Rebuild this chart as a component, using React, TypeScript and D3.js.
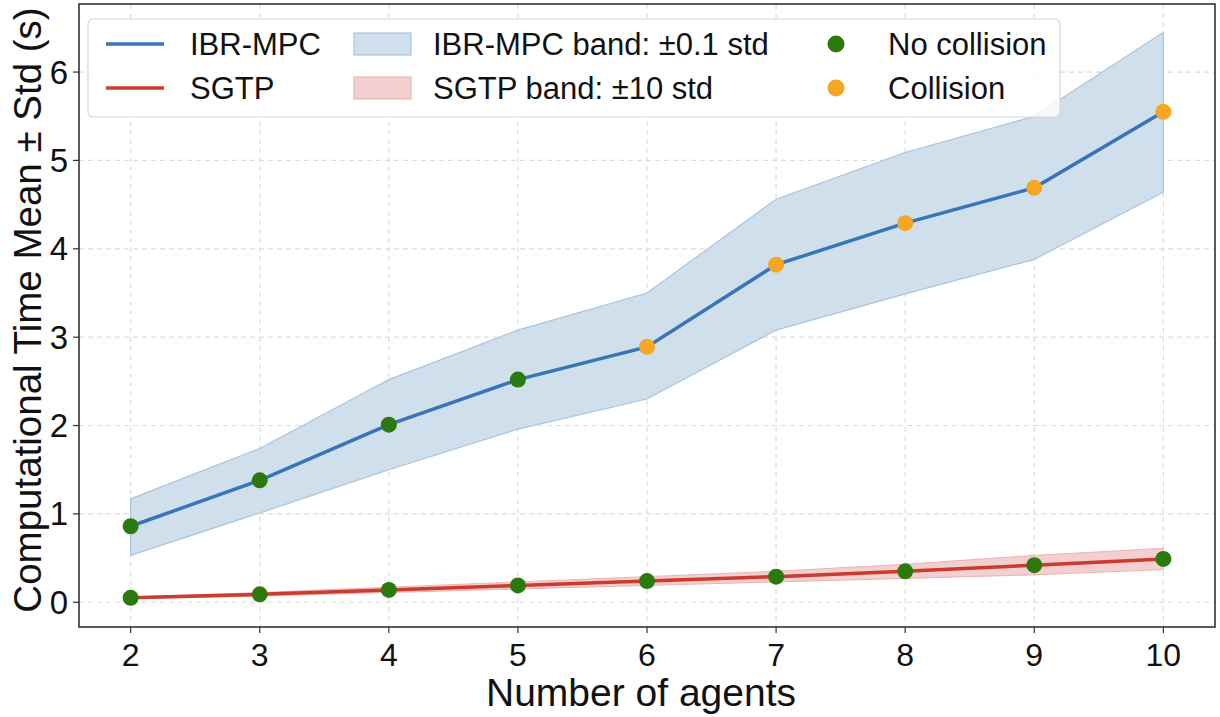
import React from 'react';
import * as d3 from 'd3';

// data
const agents = [2, 3, 4, 5, 6, 7, 8, 9, 10];
const ibrMean = [0.86, 1.38, 2.01, 2.52, 2.89, 3.82, 4.29, 4.69, 5.55];
const ibrLow = [0.53, 1.01, 1.5, 1.96, 2.3, 3.08, 3.49, 3.88, 4.64];
const ibrHigh = [1.17, 1.74, 2.52, 3.08, 3.5, 4.56, 5.09, 5.5, 6.45];
const ibrCollision = [false, false, false, false, true, true, true, true, true];
const sgtpMean = [0.05, 0.09, 0.14, 0.19, 0.24, 0.29, 0.35, 0.42, 0.49];
const sgtpLow = [0.04, 0.07, 0.11, 0.15, 0.19, 0.23, 0.27, 0.31, 0.37];
const sgtpHigh = [0.06, 0.11, 0.17, 0.23, 0.29, 0.35, 0.43, 0.53, 0.61];
const yTicks = [0, 1, 2, 3, 4, 5, 6];

const W = 1220;
const H = 717;
const m = { left: 79, right: 5, top: 4, bottom: 90 };
const FONT = 'Liberation Sans, Arial, Helvetica, sans-serif';

const BLUE = '#3a74b8';
const RED = '#cc3b2f';
const GREEN = '#2a7a0e';
const ORANGE = '#f5a623';

export default function App() {
  const x = d3.scaleLinear().domain([1.6, 10.4]).range([m.left, W - m.right]);
  const y = d3.scaleLinear().domain([-0.28, 6.77]).range([H - m.bottom, m.top]);

  const line = d3.line<number>().x((_, i) => x(agents[i])).y(d => y(d));
  const area = (lo: number[], hi: number[]) =>
    d3.area<number>()
      .x((_, i) => x(agents[i]))
      .y0((_, i) => y(lo[i]))
      .y1((_, i) => y(hi[i]))(agents) || '';

  const x0 = m.left, x1 = W - m.right, y0 = m.top, y1 = H - m.bottom;

  return (
    <svg width={W} height={H} style={{ position: 'absolute', left: 0, top: 0, background: '#fff' }} fontFamily={FONT}>
      {/* grid */}
      {agents.map(a => (
        <line key={'gx' + a} x1={x(a)} x2={x(a)} y1={y0} y2={y1} stroke="#dcdcdc" strokeWidth={1.2} strokeDasharray="5,4" />
      ))}
      {yTicks.map(t => (
        <line key={'gy' + t} x1={x0} x2={x1} y1={y(t)} y2={y(t)} stroke="#dcdcdc" strokeWidth={1.2} strokeDasharray="5,4" />
      ))}

      {/* bands */}
      <path d={area(ibrLow, ibrHigh)} fill="#cfdfec" stroke="#a8c4df" strokeWidth={1.2} />
      <path d={area(sgtpLow, sgtpHigh)} fill="#f3cfcf" stroke="#eab3b3" strokeWidth={1} />

      {/* lines */}
      <path d={line(ibrMean) || ''} fill="none" stroke={BLUE} strokeWidth={3.5} />
      <path d={line(sgtpMean) || ''} fill="none" stroke={RED} strokeWidth={3.5} />

      {/* markers */}
      {sgtpMean.map((v, i) => (
        <circle key={'s' + i} cx={x(agents[i])} cy={y(v)} r={8} fill={GREEN} />
      ))}
      {ibrMean.map((v, i) => (
        <circle key={'b' + i} cx={x(agents[i])} cy={y(v)} r={8} fill={ibrCollision[i] ? ORANGE : GREEN} />
      ))}

      {/* frame */}
      <rect x={x0} y={y0} width={x1 - x0} height={y1 - y0} fill="none" stroke="#333" strokeWidth={1.6} />

      {/* x ticks */}
      {agents.map(a => (
        <g key={'xt' + a}>
          <line x1={x(a)} x2={x(a)} y1={y1} y2={y1 + 6} stroke="#333" strokeWidth={1.2} />
          <text x={x(a)} y={y1 + 39} textAnchor="middle" fontSize={32} fill="#111">{a}</text>
        </g>
      ))}
      {/* y ticks */}
      {yTicks.map(t => (
        <g key={'yt' + t}>
          <line x1={x0 - 6} x2={x0} y1={y(t)} y2={y(t)} stroke="#333" strokeWidth={1.2} />
          <text x={x0 - 11} y={y(t)} dy="0.35em" textAnchor="end" fontSize={33} fill="#111">{t}</text>
        </g>
      ))}

      {/* axis labels */}
      <text x={(x0 + x1) / 2 - 6} y={706} textAnchor="middle" fontSize={39} fill="#111">Number of agents</text>
      <text transform={`translate(41,310) rotate(-90)`} textAnchor="middle" fontSize={38.5} fill="#111">
        Computational Time Mean ± Std (s)
      </text>

      {/* legend */}
      <g>
        <rect x={88} y={19} width={972} height={98} rx={5} fill="#fff" fillOpacity={0.8} stroke="#d6d6d6" strokeWidth={1.2} />
        {/* col 1 */}
        <line x1={106} x2={164} y1={44} y2={44} stroke={BLUE} strokeWidth={3.5} />
        <text x={190} y={44} dy="0.35em" fontSize={31} fill="#111">IBR-MPC</text>
        <line x1={106} x2={164} y1={88} y2={88} stroke={RED} strokeWidth={3.5} />
        <text x={190} y={88} dy="0.35em" fontSize={31} fill="#111">SGTP</text>
        {/* col 2 */}
        <rect x={354} y={33} width={57} height={22} fill="#cfdfec" stroke="#a8c4df" strokeWidth={1.2} />
        <text x={433} y={44} dy="0.35em" fontSize={31} fill="#111">IBR-MPC band: ±0.1 std</text>
        <rect x={354} y={77} width={57} height={22} fill="#f3cfcf" stroke="#eab3b3" strokeWidth={1.2} />
        <text x={433} y={88} dy="0.35em" fontSize={31} fill="#111">SGTP band: ±10 std</text>
        {/* col 3 */}
        <circle cx={836} cy={44} r={8.5} fill={GREEN} />
        <text x={888} y={44} dy="0.35em" fontSize={31} fill="#111">No collision</text>
        <circle cx={836} cy={88} r={8.5} fill={ORANGE} />
        <text x={888} y={88} dy="0.35em" fontSize={31} fill="#111">Collision</text>
      </g>
    </svg>
  );
}
